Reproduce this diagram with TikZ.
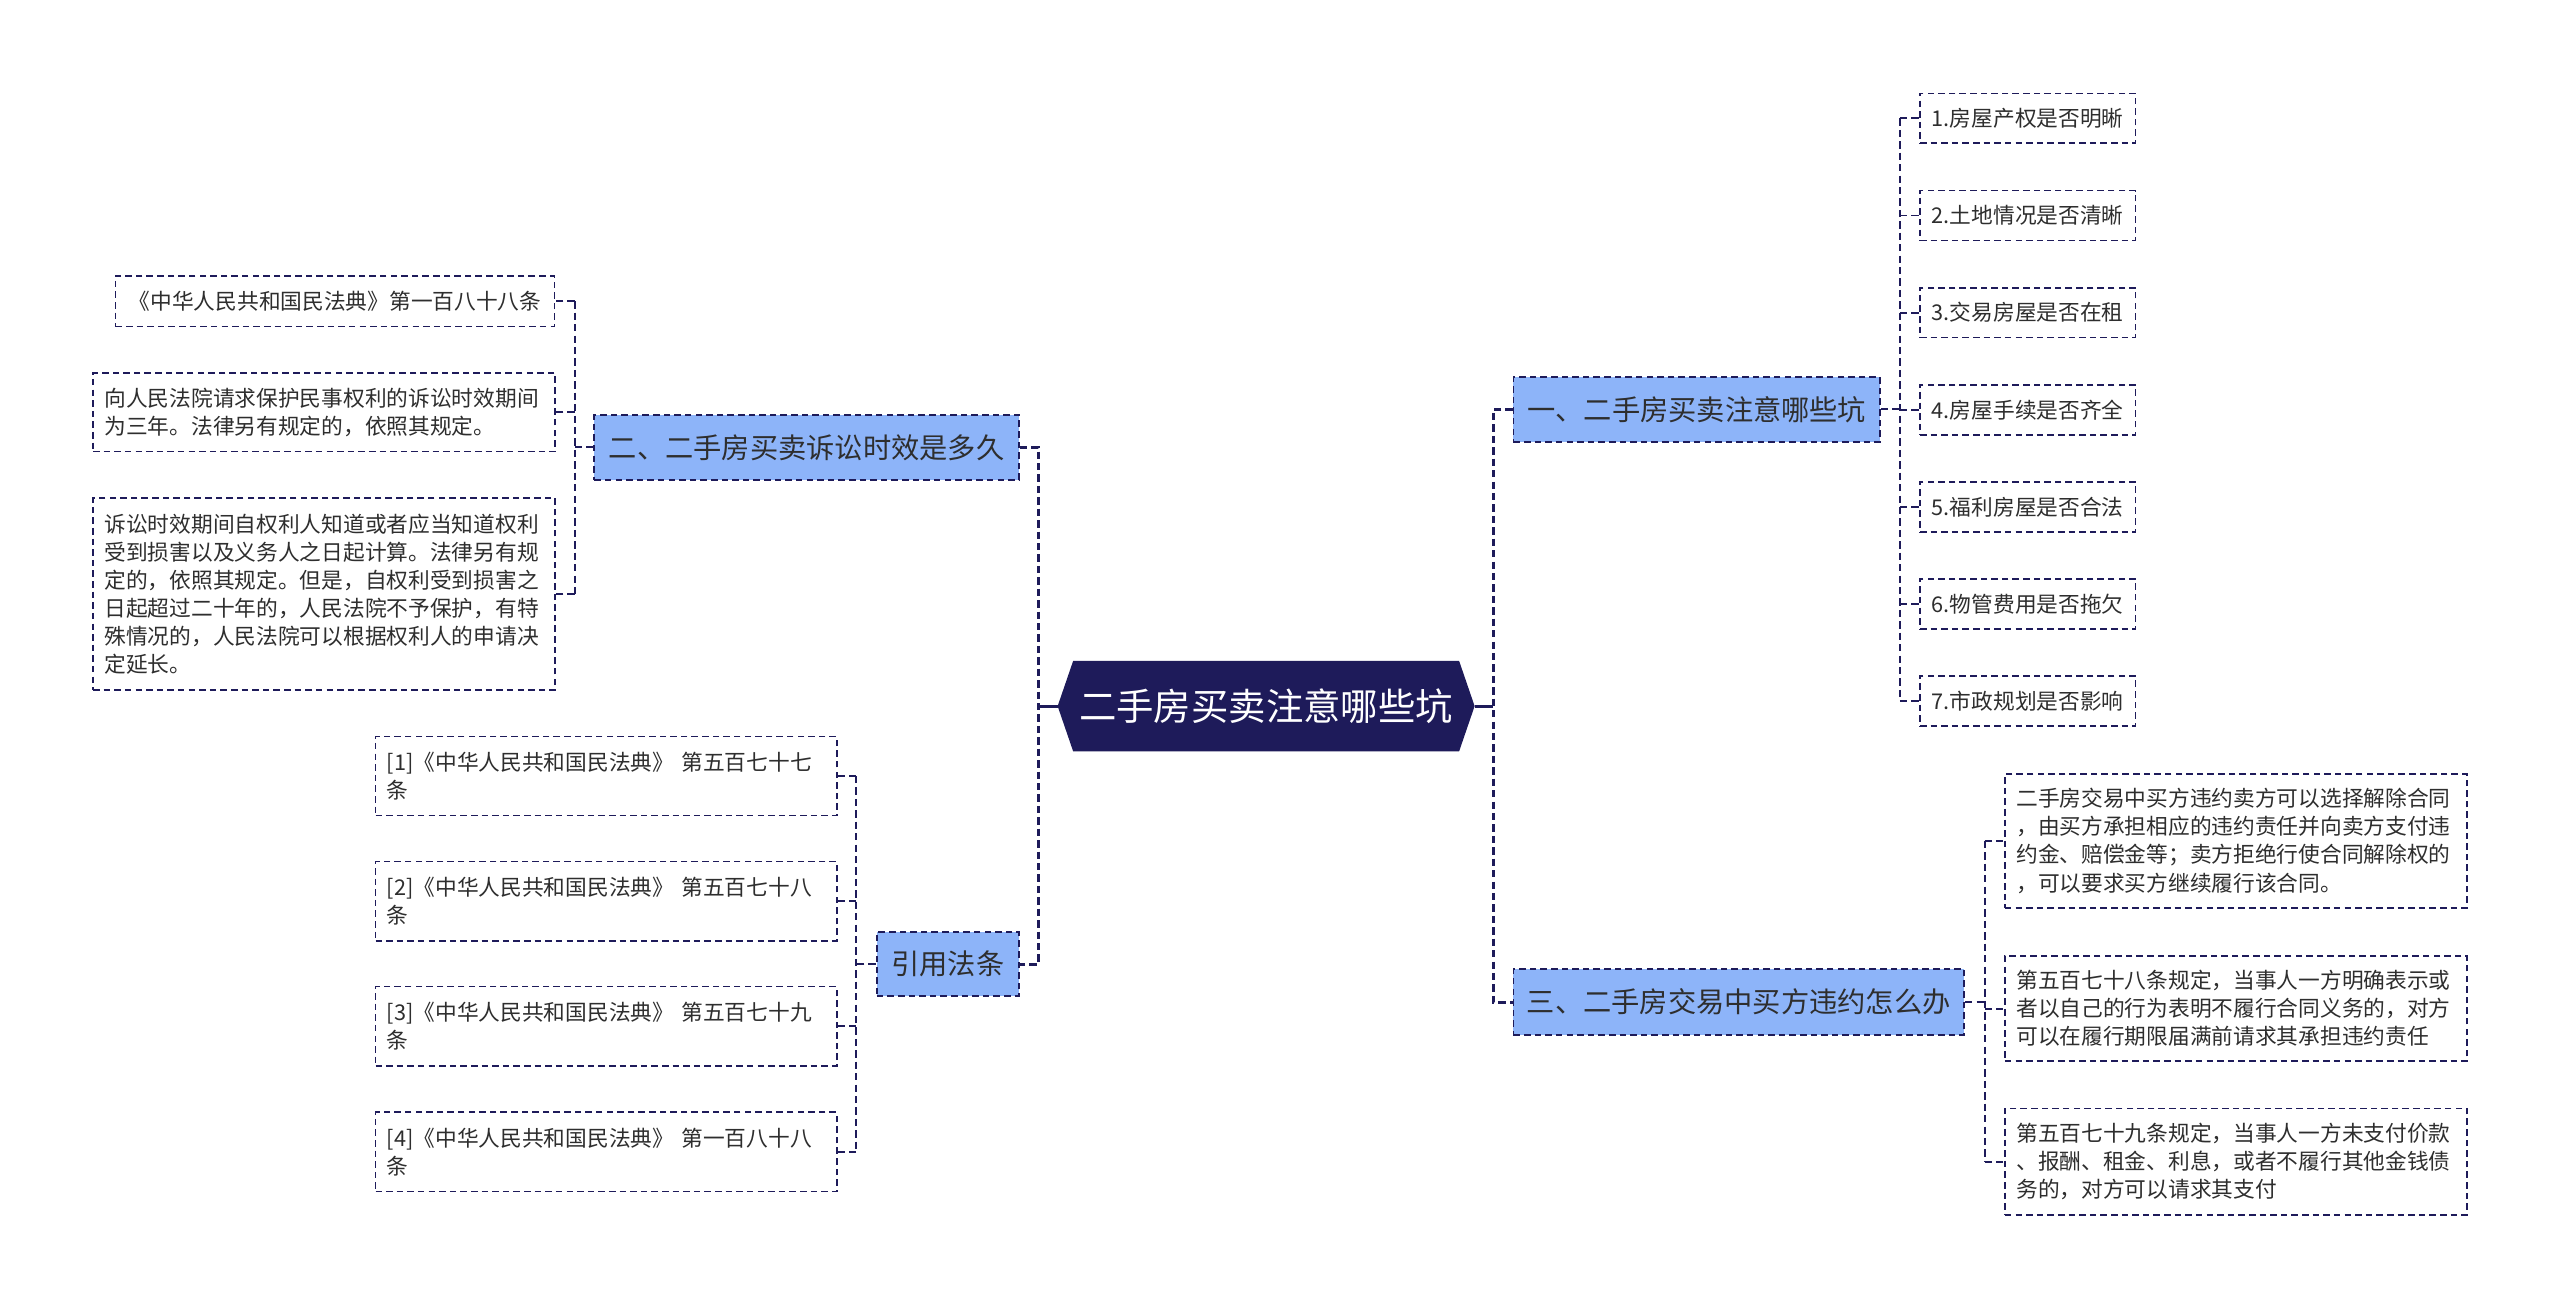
\documentclass[tikz,border=0pt]{standalone}
\usepackage{fontspec}
\newfontfamily\cjkf{Noto Sans CJK SC}
\usetikzlibrary{backgrounds}
\definecolor{navy}{HTML}{1E1B5A}
\definecolor{bblue}{HTML}{8DB4F9}
\definecolor{txt}{HTML}{2E2E2E}
\begin{document}
\begin{tikzpicture}[x=1pt,y=-1pt,
  rootconn/.style={draw=navy,line width=1.8pt,dash pattern=on 4.5pt off 2.5pt},
  conn/.style={draw=navy,line width=1.2pt,dash pattern=on 4.5pt off 2.5pt},
  rootline/.style={draw=navy,line width=1.8pt},
  branch/.style={draw=navy,line width=1.2pt,dash pattern=on 4pt off 2.5pt,fill=bblue,text=txt,
    font=\cjkf\fontsize{17.3}{21}\selectfont,inner sep=0pt},
  leaf/.style={draw=navy,line width=1.05pt,dash pattern=on 4pt off 2.5pt,fill=white,text=txt,
    font=\cjkf\fontsize{13.3}{17.2}\selectfont,inner xsep=7pt,inner ysep=0pt,align=left},
  sleaf/.style={leaf,inner sep=0pt,align=center}]
\begin{scope}[on background layer]
\fill[white] (0,0) rectangle (1568,802);
\end{scope}
\useasboundingbox (0,0) rectangle (1568,802);

% root
\node[inner sep=0pt,minimum width=255pt,minimum height=55pt,text=white,
  font=\cjkf\fontsize{22.9}{26}\selectfont] (root) at (775.5,432.5) {二手房买卖注意哪些坑};
\begin{scope}[on background layer]
\fill[navy] (root.west) -- ([xshift=9.5pt]root.north west) -- ([xshift=-9.5pt]root.north east)
  -- (root.east) -- ([xshift=-9.5pt]root.south east) -- ([xshift=9.5pt]root.south west) -- cycle;
\end{scope}

% branches
\node[branch,minimum width=224.5pt,minimum height=39.5pt] (b1) at (1039.25,250.75) {一、二手房买卖注意哪些坑};
\node[branch,minimum width=276pt,minimum height=40.5pt] (b3) at (1065,613.75) {三、二手房交易中买方违约怎么办};
\node[branch,minimum width=260pt,minimum height=40pt] (b2) at (494,274) {二、二手房买卖诉讼时效是多久};
\node[branch,minimum width=87pt,minimum height=39pt] (b4) at (580.5,590.5) {引用法条};

% right leaves of b1
\node[sleaf,minimum width=132pt,minimum height=30.6pt] (a1) at (1242,72.5) {1.房屋产权是否明晰};
\node[sleaf,minimum width=132pt,minimum height=30.6pt] (a2) at (1242,132) {2.土地情况是否清晰};
\node[sleaf,minimum width=132pt,minimum height=30.6pt] (a3) at (1242,191.5) {3.交易房屋是否在租};
\node[sleaf,minimum width=132pt,minimum height=30.6pt] (a4) at (1242,251) {4.房屋手续是否齐全};
\node[sleaf,minimum width=132pt,minimum height=30.6pt] (a5) at (1242,310.5) {5.福利房屋是否合法};
\node[sleaf,minimum width=132pt,minimum height=30.6pt] (a6) at (1242,370) {6.物管费用是否拖欠};
\node[sleaf,minimum width=132pt,minimum height=30.6pt] (a7) at (1242,429.5) {7.市政规划是否影响};

% leaves of b3
\node[leaf,text width=269pt,minimum height=82pt] (t1) at (1369.5,515) {二手房交易中买方违约卖方可以选择解除合同\\，由买方承担相应的违约责任并向卖方支付违\\约金、赔偿金等；卖方拒绝行使合同解除权的\\，可以要求买方继续履行该合同。};
\node[leaf,text width=269pt,minimum height=64.5pt] (t2) at (1369.5,617.75) {第五百七十八条规定，当事人一方明确表示或\\者以自己的行为表明不履行合同义务的，对方\\可以在履行期限届满前请求其承担违约责任};
\node[leaf,text width=269pt,minimum height=65pt] (t3) at (1369.5,711.5) {第五百七十九条规定，当事人一方未支付价款\\、报酬、租金、利息，或者不履行其他金钱债\\务的，对方可以请求其支付};

% leaves of b2
\node[sleaf,minimum width=269pt,minimum height=31pt] (c1) at (205.2,184.5) {《中华人民共和国民法典》第一百八十八条};
\node[leaf,text width=269pt,minimum height=48pt] (c2) at (198.5,252.6) {向人民法院请求保护民事权利的诉讼时效期间\\为三年。法律另有规定的，依照其规定。};
\node[leaf,text width=269pt,minimum height=117.6pt] (c3) at (198.5,363.8) {诉讼时效期间自权利人知道或者应当知道权利\\受到损害以及义务人之日起计算。法律另有规\\定的，依照其规定。但是，自权利受到损害之\\日起超过二十年的，人民法院不予保护，有特\\殊情况的，人民法院可以根据权利人的申请决\\定延长。};

% leaves of b4
\node[leaf,text width=268.5pt,minimum height=48.5pt] (r1) at (371.25,475.3) {[1]《中华人民共和国民法典》 第五百七十七\\条};
\node[leaf,text width=268.5pt,minimum height=48.5pt] (r2) at (371.25,551.9) {[2]《中华人民共和国民法典》 第五百七十八\\条};
\node[leaf,text width=268.5pt,minimum height=48.5pt] (r3) at (371.25,628.5) {[3]《中华人民共和国民法典》 第五百七十九\\条};
\node[leaf,text width=268.5pt,minimum height=48.5pt] (r4) at (371.25,705.5) {[4]《中华人民共和国民法典》 第一百八十八\\条};

% spine coordinates
\coordinate (RS) at (914.6,432.5);
\coordinate (LS) at (636,432.5);
\coordinate (S1) at (1163.7,0);
\coordinate (S3) at (1215.6,0);
\coordinate (S2) at (352,0);
\coordinate (S4) at (524.4,0);

% root connectors
\draw[rootline] (root.east) -- (RS);
\draw[rootline] (root.west) -- (LS);
\draw[rootconn] (b1.west) -- (b1.west -| RS) -- (b3.west -| RS) -- (b3.west);
\draw[rootconn] (b2.east) -- (b2.east -| LS) -- (b4.east -| LS) -- (b4.east);

% b1 children
\draw[conn] (b1.east) -- (b1.east -| S1);
\draw[conn] (a1.west -| S1) -- (a7.west -| S1);
\foreach \i in {1,...,7} {\draw[conn] (a\i.west -| S1) -- (a\i.west);}

% b3 children
\draw[conn] (b3.east) -- (b3.east -| S3);
\draw[conn] (t1.west -| S3) -- (t3.west -| S3);
\foreach \i in {1,2,3} {\draw[conn] (t\i.west -| S3) -- (t\i.west);}

% b2 children
\draw[conn] (b2.west) -- (b2.west -| S2);
\draw[conn] (c1.east -| S2) -- (c3.east -| S2);
\foreach \i in {1,2,3} {\draw[conn] (c\i.east -| S2) -- (c\i.east);}

% b4 children
\draw[conn] (b4.west) -- (b4.west -| S4);
\draw[conn] (r1.east -| S4) -- (r4.east -| S4);
\foreach \i in {1,2,3,4} {\draw[conn] (r\i.east -| S4) -- (r\i.east);}
\end{tikzpicture}
\end{document}
